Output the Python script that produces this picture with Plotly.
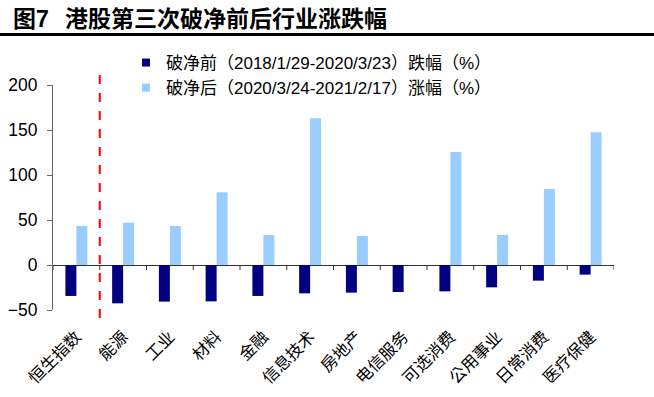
import plotly.graph_objects as go

# ---- data ----
categories = ["恒生指数", "能源", "工业", "材料", "金融", "信息技术", "房地产",
              "电信服务", "可选消费", "公用事业", "日常消费", "医疗保健"]
before_vals = [-34.4, -42.6, -40.7, -40.4, -34.4, -31.5, -30.7, -30.0, -29.3, -24.8, -17.4, -10.7]
after_vals = [43.3, 47.0, 43.3, 80.7, 33.3, 163.0, 32.2, 0.0, 125.6, 33.3, 84.4, 147.4]
y_ticks = [-50, 0, 50, 100, 150, 200]
name_before = "破净前（2018/1/29-2020/3/23）跌幅（%）"
name_after = "破净后（2020/3/24-2021/2/17）涨幅（%）"
title_text = "图7\u2002\u2009港股第三次破净前后行业涨跌幅"

DARK = "#000080"
LIGHT = "#99CCFF"
CJK = "Liberation Sans, Noto Sans CJK SC, sans-serif"
CJK_TC = "Liberation Sans, Noto Sans CJK TC, sans-serif"

W, H = 654, 397
L, R, T, B = 53, 40, 85, 87
pw, ph = W - L - R, H - T - B


def px_x(p):
    return (p - L) / pw


def px_y(p):
    return (H - B - p) / ph


fig = go.Figure()
fig.add_trace(go.Bar(x=categories, y=before_vals, marker=dict(color=DARK, line=dict(width=0)),
                     name=name_before, legendgroup="b", showlegend=False))
fig.add_trace(go.Bar(x=categories, y=after_vals, marker=dict(color=LIGHT, line=dict(width=0)),
                     name=name_after, legendgroup="a", showlegend=False))
# legend proxies (small squares)
fig.add_trace(go.Scatter(x=[None], y=[None], mode="markers", name=name_before, legendgroup="b",
                         marker=dict(symbol="square", size=8, color=DARK)))
fig.add_trace(go.Scatter(x=[None], y=[None], mode="markers", name=name_after, legendgroup="a",
                         marker=dict(symbol="square", size=8, color=LIGHT)))

shapes = []
# title underline
shapes.append(dict(type="line", xref="paper", yref="paper", x0=px_x(0), x1=px_x(W),
                   y0=px_y(34.5), y1=px_y(34.5), line=dict(color="black", width=3)))
# red dashed separator between index and sectors
shapes.append(dict(type="line", xref="x", yref="paper", x0=0.5, x1=0.5,
                   y0=px_y(318), y1=px_y(75), line=dict(color="#FF0000", width=2, dash="dash")))
# category boundary ticks on the zero line
for i in range(len(categories) + 1):
    shapes.append(dict(type="line", xref="x", yref="y", x0=i - 0.5, x1=i - 0.5,
                       y0=0, y1=-5.5, line=dict(color="#333333", width=1)))

fig.update_layout(
    width=W, height=H,
    margin=dict(l=L, r=R, t=T, b=B, pad=0, autoexpand=False),
    paper_bgcolor="white", plot_bgcolor="white",
    barmode="group", bargap=0.53, bargroupgap=0,
    font=dict(family=CJK, color="black"),
    showlegend=True,
    legend=dict(x=px_x(126), y=px_y(45), xanchor="left", yanchor="top",
                font=dict(size=17, family=CJK_TC, color="black"),
                bgcolor="rgba(0,0,0,0)", itemwidth=30, tracegroupgap=0,
                itemsizing="trace"),
    shapes=shapes,
    annotations=[dict(text=f"<b>{title_text}</b>", xref="paper", yref="paper",
                      x=px_x(11), y=px_y(19), xanchor="left", yanchor="middle",
                      showarrow=False, font=dict(size=23, family=CJK, color="black"))],
)

fig.update_xaxes(range=[-0.5, len(categories) - 0.5], showline=False, showgrid=False,
                 zeroline=False, ticks="", tickangle=-45, automargin=False,
                 tickfont=dict(size=16.5, family=CJK_TC, color="black"),
                 ticklabelstandoff=13)
fig.update_yaxes(range=[-50, 200], tickvals=y_ticks, showgrid=False, automargin=False,
                 showline=True, linecolor="#666666", linewidth=1,
                 ticks="outside", ticklen=5, tickcolor="#666666",
                 zeroline=True, zerolinecolor="#333333", zerolinewidth=1,
                 ticklabelstandoff=6,
                 tickfont=dict(size=17.5, family="Liberation Sans, Arial", color="black"))

fig.write_html("out.html")
